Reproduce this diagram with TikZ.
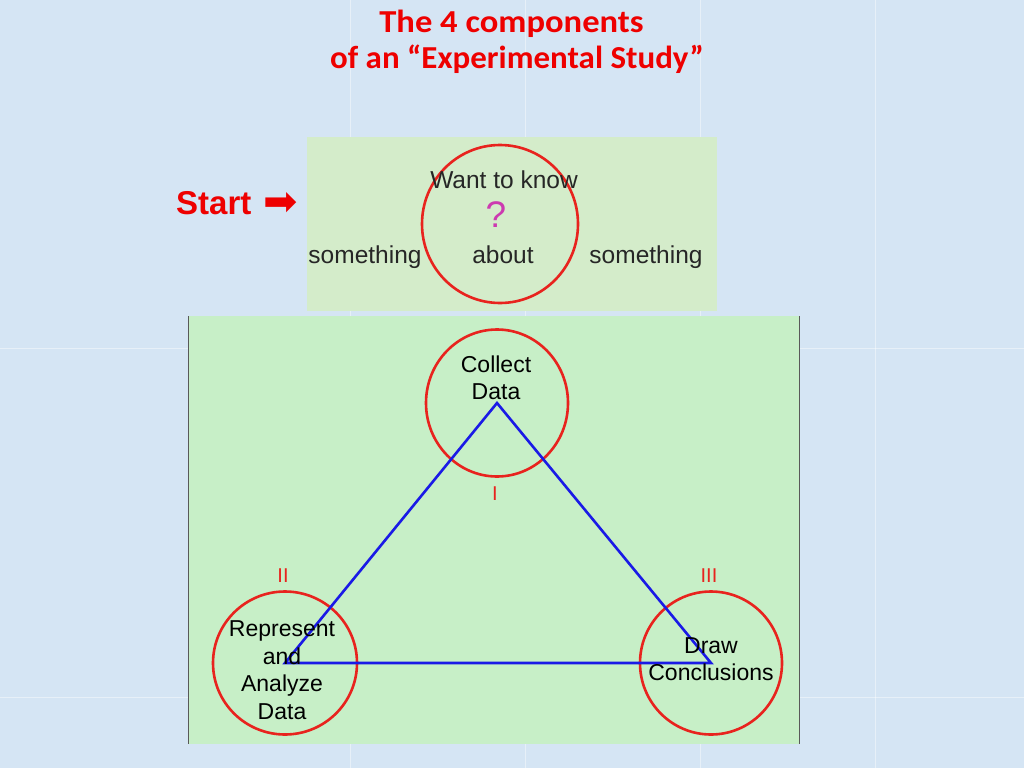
\documentclass[tikz,border=0pt]{standalone}
\usepackage{fontspec}
\setmainfont{Liberation Sans}
\newfontfamily\titlefont{Carlito}
\newfontfamily\symfont{DejaVu Sans}
\usetikzlibrary{shapes.geometric}
\definecolor{bgblue}{HTML}{D5E5F4}
\definecolor{panelA}{HTML}{D4ECCA}
\definecolor{panelB}{HTML}{C7EFC7}
\definecolor{ringred}{HTML}{E8231E}
\definecolor{triblue}{HTML}{1A1AE6}
\definecolor{qmag}{HTML}{CC3AB0}
\definecolor{titlered}{HTML}{EE0000}
\tikzset{
  ring/.style={ellipse, draw=ringred, line width=2.6pt, inner sep=0pt},
  lbl/.style={font=\fontsize{23}{26.5}\selectfont, text=black, inner sep=0pt, align=center},
  toplbl/.style={font=\fontsize{24.5}{26}\selectfont, text=black!85, inner sep=0pt, anchor=base},
  roman/.style={font=\fontsize{20}{22}\selectfont, text=ringred, inner sep=0pt},
  titletext/.style={font=\titlefont\bfseries\fontsize{32}{36}\selectfont, text=titlered, inner sep=0pt, anchor=base},
  edge/.style={draw=triblue, line width=2.6pt, line join=miter},
  seam/.style={draw=white, opacity=0.45, line width=1pt}
}
\begin{document}
\begin{tikzpicture}[x=1pt,y=-1pt]
\useasboundingbox (0,0) rectangle (1024,768);
\fill[bgblue] (0,0) rectangle (1024,768);
\foreach \xx in {350,525,700,875} \draw[seam] (\xx,0) -- (\xx,768);
\foreach \yy in {348,697} \draw[seam] (0,\yy) -- (1024,\yy);
% title
\node[titletext, xscale=1.08] (title1) at (511.5,33) {The 4 components};
\node[titletext, xscale=1.03] (title2) at (517,68) {of an “Experimental Study”};
% top panel
\fill[panelA] (307,137) rectangle (717,311);
\node[font=\bfseries\fontsize{33}{36}\selectfont, text=titlered, inner sep=0pt, anchor=base west] (start) at (176,214) {Start};
\node[font=\symfont\fontsize{41}{44}\selectfont, text=titlered, inner sep=0pt] (arrow) at (281,204) {➡};
\node[ring, minimum width=156pt, minimum height=158pt] (c0) at (500,224) {};
\node[toplbl] (want) at (504,188) {Want to know};
\node[font=\fontsize{37}{38}\selectfont, text=qmag, inner sep=0pt] (q) at (496,215) {?};
\node[toplbl] (s1) at (365,263) {something};
\node[toplbl] (ab) at (503,263) {about};
\node[toplbl] (s2) at (646,263) {something};
% bottom panel
\fill[panelB] (188,316) rectangle (800,744);
\draw[gray!70!black, line width=1pt] (188.5,316) -- (188.5,744);
\draw[gray!70!black, line width=1.2pt] (799.5,316) -- (799.5,744);
\node[ring, minimum width=142pt, minimum height=147pt] (c1) at (497,403) {};
\node[ring, minimum width=144pt, minimum height=143pt] (c2) at (285,663) {};
\node[ring, minimum width=142pt, minimum height=143pt] (c3) at (711,663) {};
\draw[edge] (c1.center) -- (c2.center) -- (c3.center) -- cycle;
\node[lbl] (t1) at (496,378) {Collect\\[1pt]Data};
\node[lbl] (t2) at (282,670) {Represent\\[1pt]and\\[1pt]Analyze\\[1pt]Data};
\node[lbl] (t3) at (711,659) {Draw\\[1pt]Conclusions};
\node[roman] (r1) at (495,494) {I};
\node[roman] (r2) at (283,576) {II};
\node[roman] (r3) at (709,576) {III};
\end{tikzpicture}
\end{document}
